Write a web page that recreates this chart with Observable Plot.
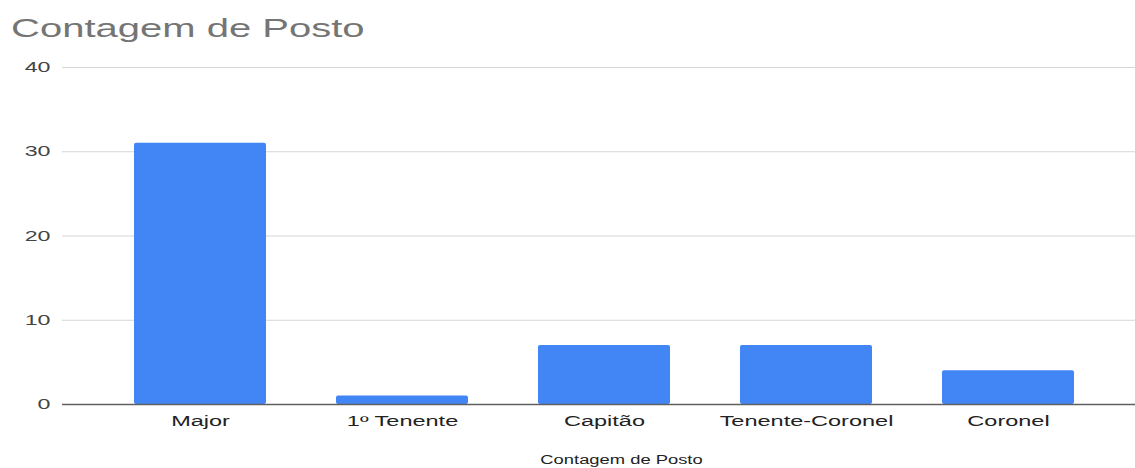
<!DOCTYPE html>
<html>
<head>
<meta charset="utf-8">
<script src="https://cdn.jsdelivr.net/npm/d3@7"></script>
<script src="https://cdn.jsdelivr.net/npm/@observablehq/plot@0.6"></script>
<style>
  html, body { margin: 0; padding: 0; background: #fff; overflow: hidden; }
  body { width: 1135px; height: 468px; }
  #wrap { position: relative; width: 1135px; height: 468px; overflow: hidden; }
  #title {
    position: absolute; left: 11px; top: 16px;
    font-family: Arial, "Liberation Sans", sans-serif;
    font-size: 25px; line-height: 25px; color: #757575;
    transform: scaleX(1.6); transform-origin: left top; white-space: nowrap;
  }
  #chart { position: absolute; left: 0; top: 50px; width: 1135px; height: 418px; overflow: hidden; }
  #chart svg { max-width: none !important; }
</style>
</head>
<body>
<div id="wrap">
  <div id="title">Contagem de Posto</div>
  <div id="chart"></div>
</div>
<script>
const titleText = "Contagem de Posto";
const axisLabel = "Contagem de Posto";
const ranks = ["Major", "1º Tenente", "Capitão", "Tenente-Coronel", "Coronel"];
const counts = [31, 1, 7, 7, 4];
const yTicks = [0, 10, 20, 30, 40];

const data = ranks.map((r, i) => ({rank: r, count: counts[i]}));
document.getElementById("title").textContent = titleText;

const chart = Plot.plot({
  width: 1146,
  height: 418,
  marginLeft: 62,
  marginRight: 0,
  marginTop: 17,
  marginBottom: 64,
  style: {fontFamily: "Arial, 'Liberation Sans', sans-serif", background: "transparent", overflow: "visible"},
  x: {domain: ranks, padding: 0.3457, label: null},
  y: {domain: [0, 40], label: null},
  marks: [
    Plot.gridY(yTicks, {stroke: "#d6d6d6", strokeOpacity: 1, strokeWidth: 1}),
    Plot.barY(data, {x: "rank", y: "count", fill: "#4285F4", rx: 2}),
    Plot.ruleY([0], {stroke: "#5f5f5f", strokeWidth: 1.5}),
    Plot.axisY({ticks: yTicks, tickSize: 0, tickPadding: 12, fontSize: 14.5, fill: "#444", label: null}),
    Plot.axisX({tickSize: 0, tickPadding: 11.5, fontSize: 14.7, fill: "#222", label: null}),
    Plot.text([axisLabel], {frameAnchor: "bottom", lineAnchor: "bottom", dy: 59, dx: 17, fontSize: 12, fill: "#222"})
  ]
});
chart.style.display = "block";
chart.style.maxWidth = "none";
chart.style.width = "1146px";
chart.style.height = "418px";
document.getElementById("chart").appendChild(chart);

// horizontal stretch of texts to match the reference's wide glyphs
chart.querySelectorAll("text").forEach(t => {
  const len = t.getComputedTextLength();
  if (len > 0) {
    const k = t.textContent === axisLabel ? 1.53 : 1.6;
    t.setAttribute("textLength", (len * k).toFixed(2));
    t.setAttribute("lengthAdjust", "spacingAndGlyphs");
  }
});
</script>
</body>
</html>
